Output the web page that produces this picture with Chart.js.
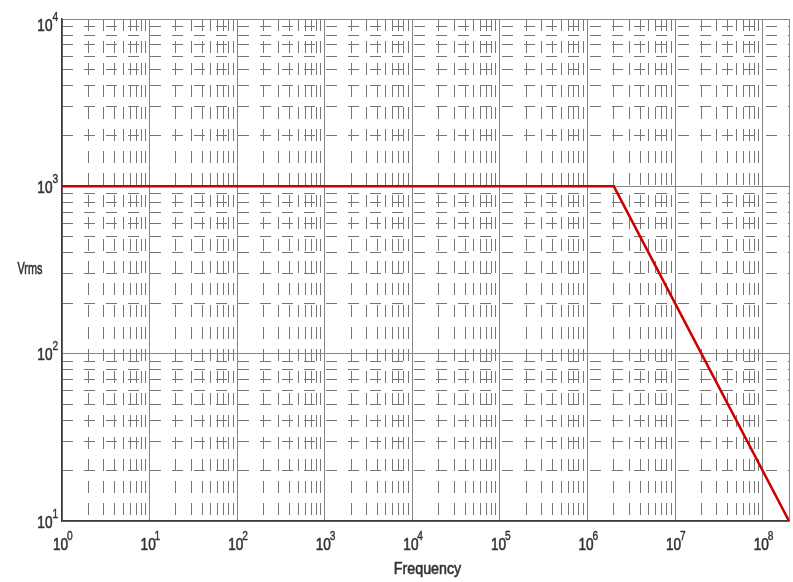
<!DOCTYPE html>
<html>
<head>
<meta charset="utf-8">
<script src="https://cdn.jsdelivr.net/npm/chart.js@4.4.1/dist/chart.umd.min.js"></script>
<style>
  html, body { margin: 0; padding: 0; background: #ffffff; }
  #wrap { width: 793px; height: 582px; position: relative; }
</style>
</head>
<body>
<div id="wrap"><canvas id="c" width="793" height="582"></canvas></div>
<script>
// ---- data ----
const freqHz = [1, 2e6, 2e8];          // frequency points of the curve
const vrms   = [1000, 1000, 10];       // Vrms at those frequencies
const xTickExponents = [0, 1, 2, 3, 4, 5, 6, 7, 8];
const yTickExponents = [1, 2, 3, 4];
const xRange = [1, 2e8];
const yRange = [10, 1e4];
const xTitle = 'Frequency';
const yTitle = 'Vrms';

function majorTicks(exps, extraMax) {
  const t = exps.map(e => ({ value: Math.pow(10, e), exp: e }));
  if (extraMax !== undefined && !t.some(k => Math.abs(k.value - extraMax) < 1e-9 * extraMax)) t.push({ value: extraMax });
  return t;
}
function minorTicks(min, max) {
  const t = [];
  for (let d = Math.floor(Math.log10(min)); d <= Math.ceil(Math.log10(max)); d++) {
    for (let m = 2; m <= 9; m++) {
      const v = m * Math.pow(10, d);
      if (v > min && v < max) t.push({ value: v });
    }
  }
  return t;
}

const FONT = "'Liberation Sans', Arial, sans-serif";
const TXT = '#333333';

function drawScaled(ctx, text, x, y, size, sx, align, stroke) {
  ctx.save();
  ctx.font = size + 'px ' + FONT;
  ctx.textBaseline = 'alphabetic';
  ctx.textAlign = 'left';
  const w = ctx.measureText(text).width * sx;
  let left = x;
  if (align === 'center') left = x - w / 2;
  else if (align === 'right') left = x - w;
  ctx.translate(left, y);
  ctx.scale(sx, 1);
  ctx.fillText(text, 0, 0);
  if (stroke) {
    ctx.lineWidth = stroke;
    ctx.strokeStyle = TXT;
    ctx.strokeText(text, 0, 0);
  }
  ctx.restore();
  return w;
}

// Tick labels (10 with a raised exponent) and axis titles, placed through the chart's scales
const labelPlugin = {
  id: 'powLabels',
  afterDraw(chart) {
    const ctx = chart.ctx;
    const area = chart.chartArea;
    const xs = chart.scales.x, ys = chart.scales.y;
    ctx.save();
    ctx.fillStyle = TXT;
    // x tick labels
    xs.ticks.forEach(t => {
      if (t.exp === undefined) return;
      const px = xs.getPixelForValue(t.value);
      const base = area.bottom + 29;
      drawScaled(ctx, '10', px - 9, base, 17, 0.8, 'left', 0.6);
      drawScaled(ctx, String(t.exp), px + 5, base - 10, 12, 0.85, 'left', 0.4);
    });
    // y tick labels
    ys.ticks.forEach(t => {
      if (t.exp === undefined) return;
      const py = ys.getPixelForValue(t.value);
      const base = Math.max(py + 6.5, area.top + 12);
      drawScaled(ctx, '10', area.left - 9.5, base, 17, 0.8, 'right', 0.6);
      drawScaled(ctx, String(t.exp), area.left - 9.5, base - 10, 12, 0.85, 'left', 0.4);
    });
    // axis titles
    drawScaled(ctx, xTitle, (area.left + area.right) / 2 + 2, 574, 17, 0.84, 'center', 0.6);
    drawScaled(ctx, yTitle, 30, 274, 16, 0.68, 'center', 0.6);
    ctx.restore();
  }
};

new Chart(document.getElementById('c'), {
  type: 'line',
  data: {
    datasets: [{
      data: freqHz.map((f, i) => ({ x: f, y: vrms[i] })),
      borderColor: '#cc0000',
      borderWidth: 2.5,
      pointRadius: 0,
      tension: 0,
      fill: false,
      xAxisID: 'x',
      yAxisID: 'y'
    }]
  },
  options: {
    responsive: false,
    animation: false,
    devicePixelRatio: 1,
    layout: { padding: { top: 19, right: 4, left: 0, bottom: 0 } },
    plugins: { legend: { display: false }, tooltip: { enabled: false } },
    scales: {
      x: {
        type: 'logarithmic',
        position: 'bottom',
        min: xRange[0], max: xRange[1],
        afterBuildTicks(s) { s.ticks = majorTicks(xTickExponents, xRange[1]); },
        afterFit(s) { s.height = 61; },
        grid: { color: '#858585', lineWidth: 1, drawTicks: false },
        border: { display: true, color: '#3a3a3a', width: 1.5 },
        ticks: { display: false }
      },
      xm: {
        type: 'logarithmic',
        position: 'bottom',
        min: xRange[0], max: xRange[1],
        afterBuildTicks(s) { s.ticks = minorTicks(xRange[0], xRange[1]); },
        grid: { color: '#767676', lineWidth: 1, drawTicks: false },
        border: { display: false, dash: [12, 10], dashOffset: 0 },
        ticks: { display: false }
      },
      y: {
        type: 'logarithmic',
        position: 'left',
        min: yRange[0], max: yRange[1],
        afterBuildTicks(s) { s.ticks = majorTicks(yTickExponents); },
        afterFit(s) { s.width = 62; },
        grid: { color: '#858585', lineWidth: 1, drawTicks: false },
        border: { display: true, color: '#3a3a3a', width: 1.5 },
        ticks: { display: false }
      },
      ym: {
        type: 'logarithmic',
        position: 'left',
        min: yRange[0], max: yRange[1],
        afterBuildTicks(s) { s.ticks = minorTicks(yRange[0], yRange[1]); },
        grid: { color: '#767676', lineWidth: 1, drawTicks: false },
        border: { display: false, dash: [11, 11], dashOffset: 0 },
        ticks: { display: false }
      }
    }
  },
  plugins: [labelPlugin]
});
</script>
</body>
</html>
